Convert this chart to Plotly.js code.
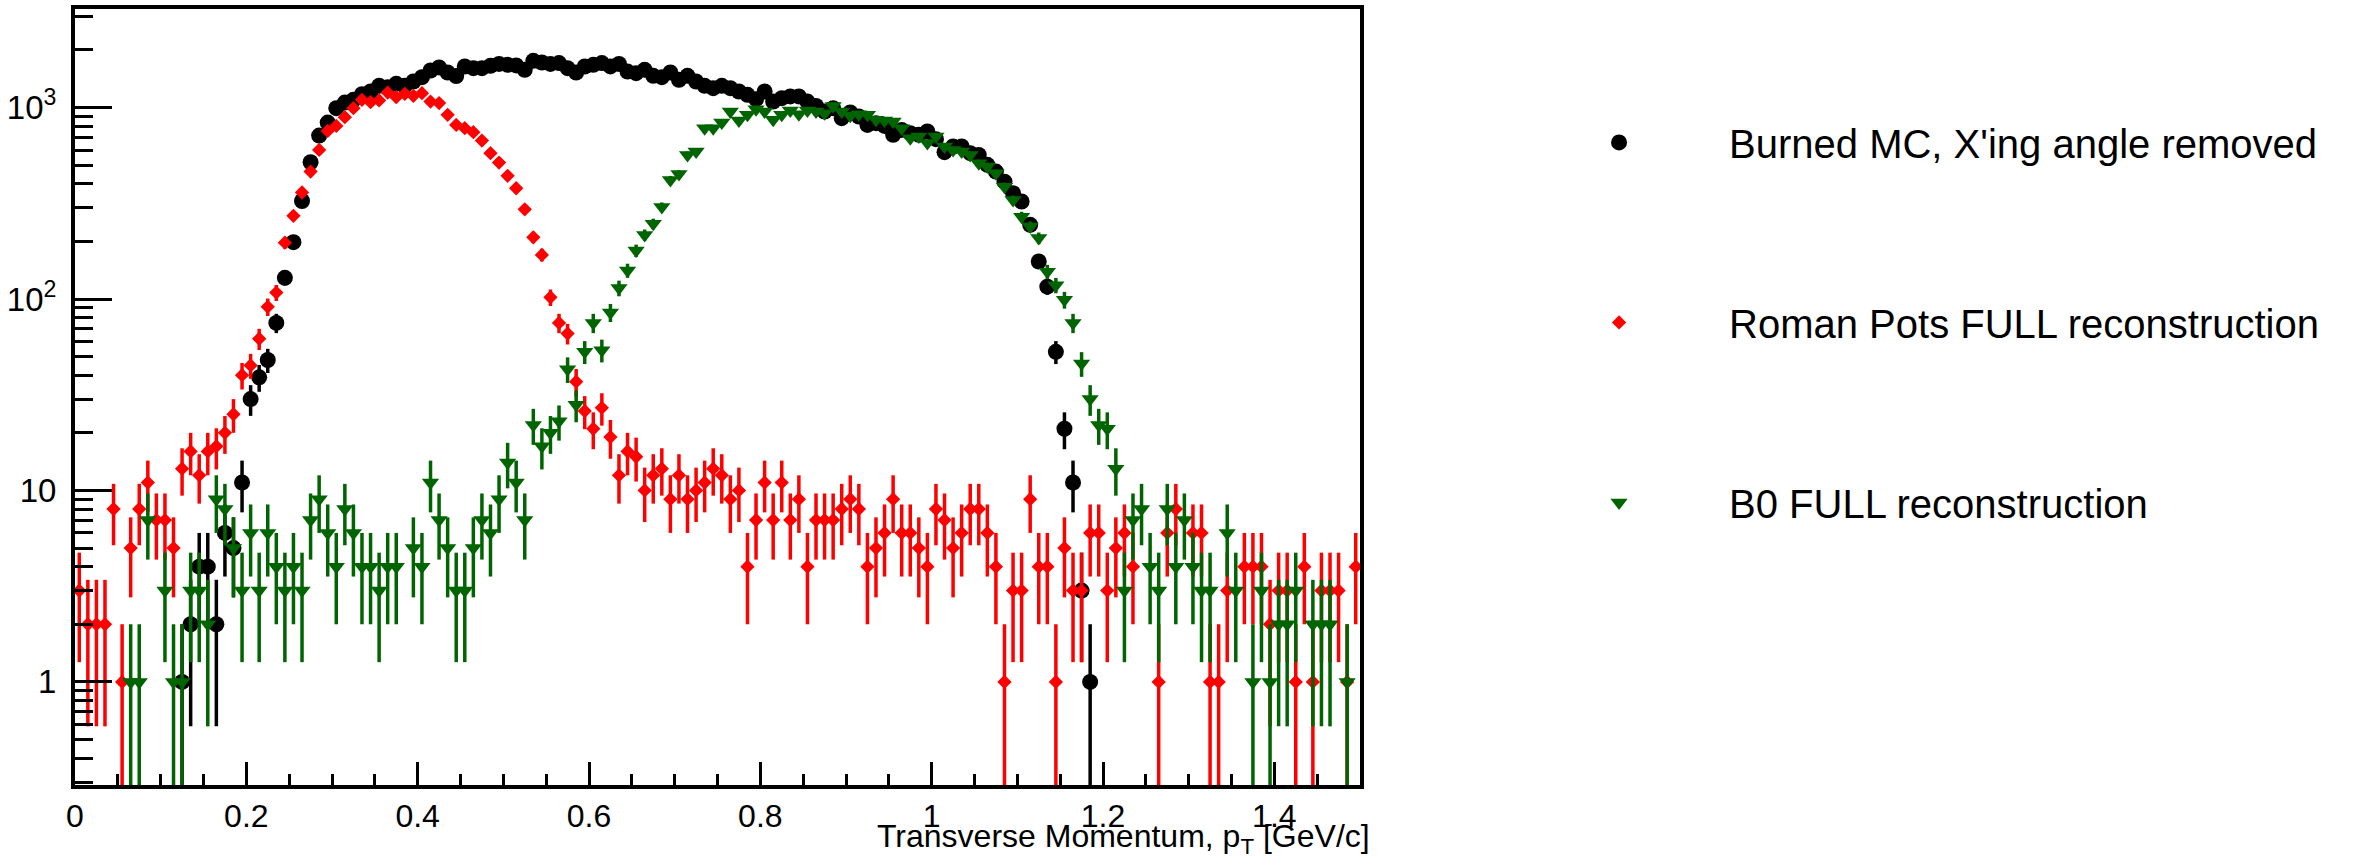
<!DOCTYPE html>
<html>
<head>
<meta charset="utf-8">
<script src="https://cdn.plot.ly/plotly-3.0.1.min.js"></script>
<style>
  html, body { margin: 0; padding: 0; background: #ffffff; }
  #chart { width: 2379px; height: 861px; }
</style>
</head>
<body>
<div id="chart"></div>
<script>
// ---- Histogram binning (150 bins of 0.01 GeV/c from 0 to 1.5) ----
const BIN_LO = 0.0;
const BIN_HI = 1.5;
const N_BINS = 150;

// ---- Series labels ----
const seriesNames = [
  "Burned MC, X'ing angle removed",
  "Roman Pots FULL reconstruction",
  "B0 FULL reconstruction"
];

// ---- Bin contents (counts per bin; null = empty bin) ----
const burnedMC = [
  null, null, null, null, null, null, null, null, null, null,
  null, null, 1, 2, 4, 4, 2, 6, 5, 11,
  30, 39, 48, 75, 129, 198, 325, 518, 714, 835,
  993, 1062, 1097, 1175, 1213, 1298, 1278, 1330, 1298, 1368,
  1442, 1561, 1620, 1524, 1460, 1638, 1606, 1606, 1652, 1690,
  1672, 1660, 1574, 1754, 1720, 1690, 1708, 1606, 1524, 1638,
  1672, 1708, 1640, 1690, 1542, 1512, 1574, 1465, 1442, 1524,
  1396, 1465, 1368, 1298, 1263, 1298, 1263, 1213, 1165, 1106,
  1213, 1075, 1120, 1143, 1143, 1075, 1020, 953, 993, 880,
  942, 898, 812, 829, 802, 720, 764, 735, 720, 750,
  684, 585, 626, 626, 578, 566, 502, 463, 410, 357,
  323, 244, 157, 116, 53, 21, 11, 3, 1, null,
  null, null, null, null, null, null, null, null, null, null,
  null, null, null, null, null, null, null, null, null, null,
  null, null, null, null, null, null, null, null, null, null
];

const romanPots = [
  3, 2, 2, 2, 8, 1, 5, 8, 11, 7,
  7, 5, 13, 16, 12, 16, 17, 20, 25, 40,
  45, 62, 91, 108, 197, 272, 360, 463, 601, 755,
  802, 891, 993, 1097, 1067, 1089, 1198, 1133, 1180, 1151,
  1189, 1075, 1055, 916, 812, 780, 744, 672, 578, 516,
  440, 379, 294, 210, 170, 102, 75, 66, 37, 26,
  21, 27, 19, 12, 16, 15, 10, 12, 13, 9,
  12, 9, 10, 11, 13, 12, 9, 10, 4, 7,
  11, 7, 11, 7, 9, 4, 7, 7, 7, 8,
  9, 8, 4, 5, 6, 9, 6, 6, 5, 4,
  8, 7, 5, 6, 8, 8, 6, 4, 1, 3,
  3, 9, 4, 4, 1, 5, 3, 3, 6, 6,
  3, 5, 6, 4, null, null, 1, 6, 8, null,
  6, 6, 1, 1, 3, null, 4, 4, 4, 2,
  3, 3, 1, 4, 1, 3, 3, 3, 1, 4
];

const b0Full = [
  null, null, null, null, null, null, 1, 1, 7, null,
  3, 1, 1, 3, 3, 2, 9, 8, 5, 3,
  6, 3, 6, 4, 3, 4, 3, 7, 9, 6,
  4, 8, 6, 4, 4, 3, 4, 4, null, 5,
  4, 11, 7, 5, 3, 3, 5, 7, 6, 9,
  14, 11, 7, 22, 17, 20, 23, 43, 28, 53,
  75, 54, 85, 114, 141, 179, 216, 247, 302, 419,
  450, 566, 589, 780, 780, 835, 953, 855, 916, 981,
  953, 863, 916, 965, 924, 965, 953, 935, 1020, 953,
  905, 924, 916, 863, 855, 845, 780, 692, 706, 652,
  706, 626, 601, 589, 566, 512, 492, 454, 386, 329,
  269, 239, 208, 139, 118, 99, 75, 46, 30, 22,
  21, 13, 3, 7, 8, 4, 3, 8, 4, 7,
  4, 3, 3, null, 6, 3, null, 1, 3, 1,
  2, 2, 3, null, 2, 2, 2, null, 1, null
];

// ---- Axis tick labels ----
const xTickVals = [0, 0.2, 0.4, 0.6, 0.8, 1, 1.2, 1.4];
const xTickText = ["0", "0.2", "0.4", "0.6", "0.8", "1", "1.2", "1.4"];
const yTickVals = [1, 10, 100, 1000];
const yTickText = ["1", "10", "10<sup>2</sup>", "10<sup>3</sup>"];
const xTitle = "Transverse Momentum, p<sub>T</sub> [GeV/c]";

// ---- Derived: bin centres and Poisson errors ----
const binW = (BIN_HI - BIN_LO) / N_BINS;
const binCenters = [];
for (let i = 0; i < N_BINS; i++) binCenters.push(+(BIN_LO + (i + 0.5) * binW).toFixed(4));
const poisson = arr => arr.map(v => (v == null ? null : Math.sqrt(v)));

// minor log ticks 0.3..0.9, 2..9 x 10^k, 2000, 3000
const yMinor = [];
for (let k = -1; k <= 3; k++) {
  for (let d = 2; d <= 9; d++) {
    const v = d * Math.pow(10, k);
    if (v > 0.29 && v < 3300) yMinor.push(+v.toPrecision(3));
  }
}

const FONT = "Liberation Sans, Arial, Helvetica, sans-serif";
const GREEN = "#006400";

function trace(y, name, color, symbol, size, group) {
  return {
    type: "scatter",
    mode: "markers",
    x: binCenters,
    y: y,
    name: name,
    legendgroup: group,
    marker: { color: color, symbol: symbol, size: size, line: { width: 0 } },
    error_y: {
      type: "data",
      array: poisson(y),
      symmetric: true,
      color: color,
      thickness: 3.5,
      width: 0
    },
    hoverinfo: "x+y+name"
  };
}

const data = [
  trace(burnedMC, seriesNames[0], "#000000", "circle", 16, "g1"),
  trace(romanPots, seriesNames[1], "#ff0000", "diamond", 11, "g2"),
  trace(b0Full, seriesNames[2], GREEN, "triangle-down", 15, "g3")
];

const layout = {
  width: 2379,
  height: 861,
  paper_bgcolor: "#ffffff",
  plot_bgcolor: "#ffffff",
  margin: { l: 75, r: 1019, t: 9, b: 76, pad: 0 },
  font: { family: FONT, color: "#000000", size: 33 },
  showlegend: true,
  legend: {
    x: 1.116,
    y: 0.87,
    xanchor: "left",
    yanchor: "top",
    itemwidth: 210,
    tracegroupgap: 125,
    traceorder: "grouped",
    bgcolor: "rgba(0,0,0,0)",
    font: { family: FONT, size: 40, color: "#000000" }
  },
  xaxis: {
    range: [BIN_LO, BIN_HI],
    showline: true,
    linewidth: 4,
    linecolor: "#000000",
    mirror: true,
    showgrid: false,
    zeroline: false,
    ticks: "inside",
    ticklen: 23,
    tickwidth: 3,
    tickcolor: "#000000",
    tickmode: "array",
    tickvals: xTickVals,
    ticktext: xTickText,
    tickfont: { family: FONT, size: 32, color: "#000000" },
    minor: { ticks: "inside", ticklen: 11, tickwidth: 3, tickcolor: "#000000", dtick: 0.05, tick0: 0, showgrid: false }
  },
  yaxis: {
    type: "log",
    range: [Math.log10(0.2894), Math.log10(3272)],
    showline: true,
    linewidth: 4,
    linecolor: "#000000",
    mirror: true,
    showgrid: false,
    zeroline: false,
    ticks: "inside",
    ticklen: 37,
    tickwidth: 3,
    tickcolor: "#000000",
    tickmode: "array",
    tickvals: yTickVals,
    ticktext: yTickText,
    ticklabelstandoff: 8,
    tickfont: { family: FONT, size: 33, color: "#000000" },
    minor: { ticks: "inside", ticklen: 18, tickwidth: 3, tickcolor: "#000000", tickmode: "array", tickvals: yMinor, showgrid: false }
  },
  annotations: [
    {
      text: xTitle,
      xref: "paper",
      yref: "paper",
      x: 1.009,
      y: -0.069,
      xanchor: "right",
      yanchor: "middle",
      showarrow: false,
      font: { family: FONT, size: 32, color: "#000000" }
    }
  ]
};

Plotly.newPlot("chart", data, layout, { displayModeBar: false, staticPlot: true });
</script>
</body>
</html>
